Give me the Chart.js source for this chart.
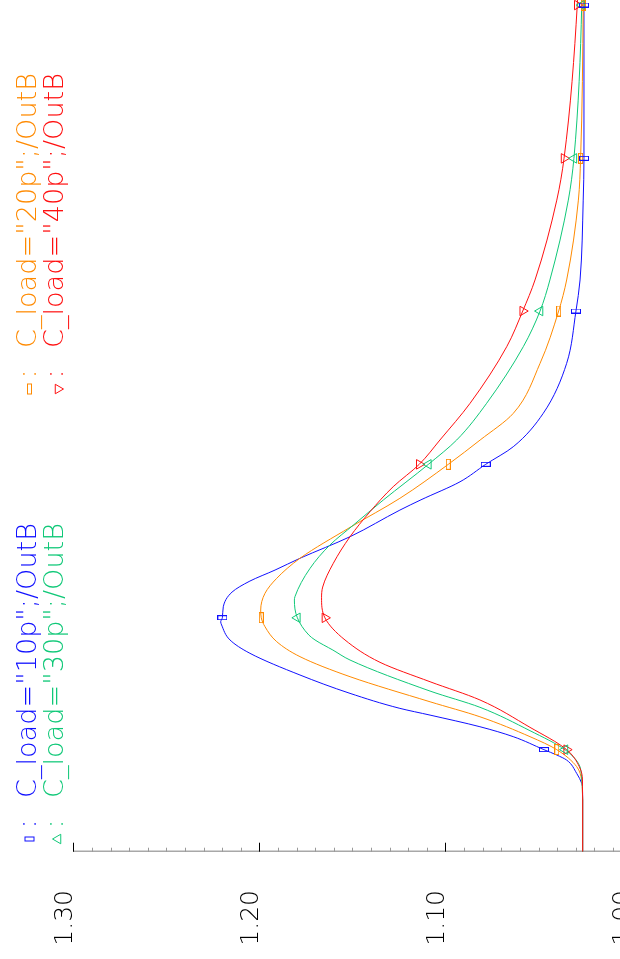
<!DOCTYPE html>
<html>
<head>
<meta charset="utf-8">
<title>OutB transient</title>
<script src="https://cdn.jsdelivr.net/npm/chart.js@4/dist/chart.umd.min.js"></script>
<style>
    html, body { margin: 0; padding: 0; background: #fff; }
    /* the plot is drawn upright, then turned a quarter left like the printout */
    #page { position: relative; width: 620px; height: 959px; overflow: hidden; background: #fff; }
    #turn {
        position: absolute; left: 0; top: 0; width: 1000px; height: 700px;
        transform-origin: 0 0;
        transform: translate(0, 959px) rotate(-90deg);
    }
</style>
</head>
<body>
<div id="page"><div id="turn"><canvas id="wave" width="1000" height="700"></canvas></div></div>
<script>
// 图例名称和颜色
const seriesNames = ['C_load="10p";/OutB', 'C_load="20p";/OutB', 'C_load="30p";/OutB', 'C_load="40p";/OutB'];
const seriesColors = ['#1010ff', '#ff8a00', '#10c878', '#ff1010'];

// 纵轴刻度
const valueTicks = [1.00, 1.10, 1.20, 1.30];

// 曲线数据 (时间 ns, 电压 V)
const blueT = [0, 3.38, 4.25, 4.47, 5.12, 5.99, 6.32, 6.67, 7.52, 8.17, 8.93, 9.37, 10.35, 11.55, 12.97, 13.84, 14.82, 15.03, 15.29, 16.01, 16.97, 17.69, 18.41, 19.18, 20.59, 22.33, 23.0, 24.18, 25.32, 26.47, 28.65, 31.92, 35.34, 37.37, 42.59, 45.32, 55.34, 58.35];
const blueV = [1.0263, 1.0263, 1.0264, 1.0268, 1.0295, 1.0349, 1.0402, 1.0471, 1.0636, 1.0815, 1.1083, 1.1245, 1.1513, 1.1782, 1.2051, 1.2158, 1.2203, 1.2208, 1.2199, 1.2194, 1.2147, 1.2051, 1.1916, 1.1782, 1.1513, 1.1245, 1.1132, 1.0922, 1.0784, 1.0636, 1.0475, 1.0349, 1.0299, 1.0277, 1.0260, 1.0256, 1.0256, 1.0256];

const orangeT = [0, 3.38, 4.25, 4.69, 5.56, 6.67, 7.52, 8.82, 9.80, 11.44, 12.75, 13.73, 14.71, 15.29, 15.80, 16.89, 17.87, 19.18, 21.20, 23.10, 25.32, 26.91, 28.65, 31.92, 35.34, 37.37, 42.59, 45.32, 55.34, 58.35];
const orangeV = [1.0263, 1.0263, 1.0265, 1.0268, 1.0295, 1.0402, 1.0546, 1.0815, 1.1083, 1.1513, 1.1782, 1.1907, 1.1970, 1.1990, 1.1993, 1.1970, 1.1907, 1.1782, 1.1513, 1.1245, 1.0985, 1.0814, 1.0636, 1.0492, 1.0392, 1.0349, 1.0286, 1.0274, 1.0260, 1.0259];

const greenT = [0, 3.38, 4.25, 4.82, 5.78, 6.67, 7.91, 9.44, 10.5, 12.53, 13.18, 13.84, 14.16, 15.29, 16.45, 16.67, 18.52, 20.05, 21.35, 22.99, 25.32, 26.91, 29.31, 33.01, 35.34, 37.37, 42.59, 45.32, 55.34, 58.35];
const greenV = [1.0263, 1.0263, 1.0265, 1.0268, 1.0286, 1.0358, 1.0546, 1.0815, 1.1083, 1.1513, 1.1605, 1.1701, 1.1734, 1.1796, 1.1812, 1.1809, 1.1728, 1.1621, 1.1495, 1.1334, 1.1092, 1.0940, 1.0779, 1.0582, 1.0492, 1.0439, 1.0340, 1.0310, 1.0268, 1.0266];

const redT = [0, 3.38, 4.25, 4.69, 5.56, 6.67, 8.13, 9.92, 11.11, 12.38, 13.84, 15.29, 16.6, 17.3, 18.85, 20.59, 22.22, 23.86, 25.32, 26.91, 29.31, 33.01, 35.34, 37.37, 42.59, 45.32, 55.34, 58.35];
const redV = [1.0263, 1.0263, 1.0264, 1.0264, 1.0281, 1.0349, 1.0546, 1.0815, 1.1083, 1.1352, 1.1540, 1.1648, 1.1666, 1.1660, 1.1603, 1.1513, 1.1406, 1.1281, 1.1141, 1.1030, 1.0868, 1.0671, 1.0585, 1.0519, 1.0402, 1.0363, 1.0292, 1.0285];

// 标记点
const markerTimes = [6.67, 15.29, 25.32, 35.34, 45.32, 55.34];
const blueMarks = [1.0471, 1.2199, 1.0784, 1.0299, 1.0256, 1.0256];
const orangeMarks = [1.0402, 1.1990, 1.0985, 1.0392, 1.0274, 1.0260];
const greenMarks = [1.0358, 1.1796, 1.1092, 1.0492, 1.0310, 1.0268];
const redMarks = [1.0349, 1.1648, 1.1141, 1.0585, 1.0363, 1.0292];

const labelFont = "'DejaVu Sans', sans-serif";

// 小矩形标记 (Chart.js 只有正方形, 所以自己画)
function boxMarker(w, h, color) {
    const c = document.createElement('canvas');
    c.width = w;
    c.height = h;
    const g = c.getContext('2d');
    g.strokeStyle = color;
    g.lineWidth = 1;
    g.strokeRect(0.5, 0.5, w - 1, h - 1);
    return c;
}

const markerStyles = [
    { style: boxMarker(5, 10, seriesColors[0]), rot: 0 },
    { style: boxMarker(11, 5, seriesColors[1]), rot: 0 },
    { style: 'triangle', rot: 0 },
    { style: 'triangle', rot: 180 }
];

// order 越小画得越靠上, 红线在最上面
function lineSet(t, v, color, order) {
    return {
        data: t.map((x, i) => ({ x: x, y: v[i] })),
        showLine: true,
        borderColor: color,
        borderWidth: 1,
        pointRadius: 0,
        cubicInterpolationMode: 'monotone',
        fill: false,
        order: order
    };
}

function markSet(v, color, m) {
    return {
        data: markerTimes.map((x, i) => ({ x: x, y: v[i] })),
        showLine: false,
        pointStyle: m.style,
        pointRotation: m.rot,
        pointRadius: 5.5,
        pointBorderWidth: 1,
        borderColor: color,
        pointBorderColor: color,
        backgroundColor: 'rgba(0,0,0,0)',
        pointBackgroundColor: 'rgba(0,0,0,0)',
        order: 0
    };
}

// 刻度朝里 + 图例
const waveDecor = {
    id: 'waveDecor',
    afterDraw(chart) {
        const { ctx, chartArea, scales: { y } } = chart;
        ctx.save();
        ctx.lineWidth = 1;
        for (let i = 0; i <= 30; i++) {
            const py = Math.round(y.getPixelForValue(1.0 + i * 0.01)) + 0.5;
            const major = i % 10 === 0;
            ctx.strokeStyle = major ? '#000' : '#999';
            ctx.beginPath();
            ctx.moveTo(chartArea.left, py);
            ctx.lineTo(chartArea.left + (major ? 9 : 4), py);
            ctx.stroke();
        }

        const slots = [
            { x: 120, base: 36, mid: 29.5 },
            { x: 570, base: 36, mid: 29.5 },
            { x: 120, base: 63, mid: 58 },
            { x: 570, base: 63, mid: 58 }
        ];
        ctx.font = '200 27px ' + labelFont;
        ctx.textBaseline = 'alphabetic';
        seriesNames.forEach((name, i) => {
            const s = slots[i];
            const color = seriesColors[i];
            ctx.strokeStyle = color;
            ctx.fillStyle = color;
            // 标记
            if (i === 0) {
                ctx.strokeRect(s.x - 2, s.mid - 4.5, 4, 9);
            } else if (i === 1) {
                ctx.strokeRect(s.x - 5, s.mid - 2, 10, 4);
            } else {
                const r = 5.5;
                const dir = i === 2 ? -1 : 1;
                ctx.beginPath();
                ctx.moveTo(s.x, s.mid + dir * r);
                ctx.lineTo(s.x - r * 0.866, s.mid - dir * r * 0.5);
                ctx.lineTo(s.x + r * 0.866, s.mid - dir * r * 0.5);
                ctx.closePath();
                ctx.stroke();
            }
            ctx.textAlign = 'center';
            ctx.fillText(':', s.x + 15, s.base);
            ctx.textAlign = 'left';
            const w = ctx.measureText(name).width;
            ctx.save();
            ctx.translate(s.x + 41, s.base);
            ctx.scale(275 / w, 1);
            ctx.fillText(name, 0, 0);
            ctx.restore();
        });
        ctx.restore();
    }
};

const ctx = document.getElementById('wave').getContext('2d');
new Chart(ctx, {
    type: 'scatter',
    data: {
        datasets: [
            lineSet(blueT, blueV, seriesColors[0], 4),
            lineSet(orangeT, orangeV, seriesColors[1], 3),
            lineSet(greenT, greenV, seriesColors[2], 2),
            lineSet(redT, redV, seriesColors[3], 1),
            markSet(blueMarks, seriesColors[0], markerStyles[0]),
            markSet(orangeMarks, seriesColors[1], markerStyles[1]),
            markSet(greenMarks, seriesColors[2], markerStyles[2]),
            markSet(redMarks, seriesColors[3], markerStyles[3])
        ]
    },
    options: {
        responsive: false,
        animation: false,
        layout: { autoPadding: false, padding: { left: 0, right: 0, top: 73.3, bottom: 68.4 } },
        plugins: {
            legend: { display: false },
            tooltip: { enabled: false }
        },
        scales: {
            x: { type: 'linear', min: 0, max: 58.35, display: false },
            y: {
                type: 'linear',
                min: 1.0,
                max: 1.3,
                position: 'left',
                afterFit: (s) => { s.width = 107.3; },
                afterBuildTicks: (s) => { s.ticks = valueTicks.map(v => ({ value: v })); },
                grid: { display: false, drawTicks: false },
                border: { display: true, color: '#a8a8a8', width: 1.5 },
                ticks: {
                    padding: 38.3,
                    labelOffset: -8,
                    color: '#000',
                    font: { family: labelFont, size: 25, weight: '200' },
                    callback: (v) => Number(v).toFixed(2)
                }
            }
        }
    },
    plugins: [waveDecor]
});
</script>
</body>
</html>
